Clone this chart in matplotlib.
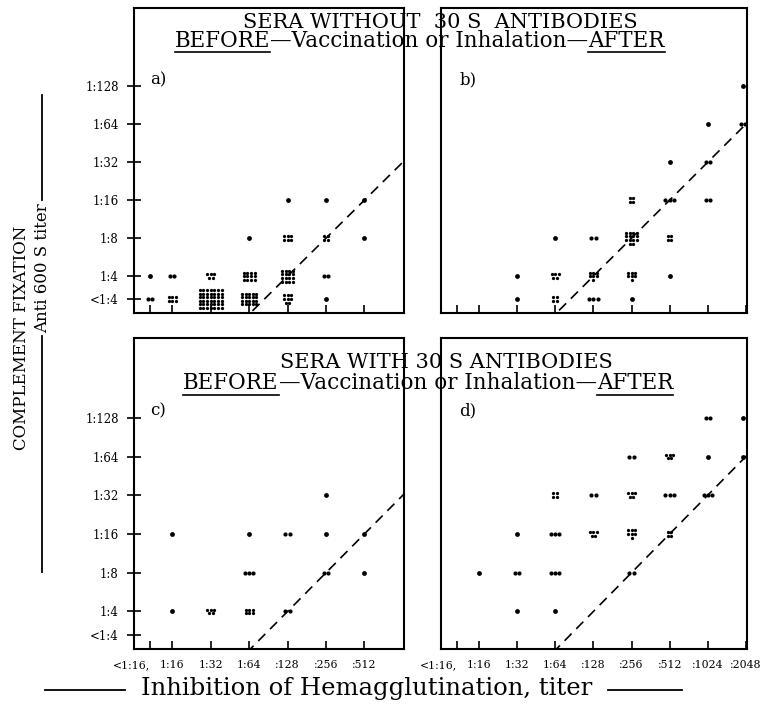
import matplotlib
matplotlib.use("Agg")
import matplotlib.pyplot as plt
from matplotlib.lines import Line2D
from matplotlib.transforms import ScaledTranslation
import numpy as np

plt.rcParams['font.family'] = ['DejaVu Serif']

# titer categories
hi_short = ['<1:16', '1:16', '1:32', '1:64', '1:128', '1:256', '1:512']
hi_long = hi_short + ['1:1024', '1:2048']
hi_tick_text = ['<1:16,', '1:16', '1:32', '1:64', ':128', ':256', ':512', ':1024', ':2048']
cf_levels = ['<1:4', '1:4', '1:8', '1:16', '1:32', '1:64', '1:128']

# a) without 30 S antibodies, before
a_hi = ['<1:16', '<1:16', '1:16', '1:16', '1:32', '1:32', '1:64', '1:64', '1:64',
        '1:128', '1:128', '1:128', '1:128', '1:256', '1:256', '1:256', '1:256', '1:512', '1:512']
a_cf = ['1:4', '<1:4', '1:4', '<1:4', '1:4', '<1:4', '1:8', '1:4', '<1:4',
        '1:16', '1:8', '1:4', '<1:4', '1:16', '1:8', '1:4', '<1:4', '1:16', '1:8']
a_n = [1, 2, 2, 6, 5, 42, 1, 12, 20, 1, 6, 16, 8, 1, 4, 2, 1, 1, 1]

# b) without 30 S antibodies, after
b_hi = ['1:32', '1:32', '1:64', '1:64', '1:64', '1:128', '1:128', '1:128',
        '1:256', '1:256', '1:256', '1:256', '1:512', '1:512', '1:512', '1:512',
        '1:1024', '1:1024', '1:1024', '1:2048', '1:2048']
b_cf = ['1:4', '<1:4', '1:8', '1:4', '<1:4', '1:8', '1:4', '<1:4',
        '1:16', '1:8', '1:4', '<1:4', '1:32', '1:16', '1:8', '1:4',
        '1:64', '1:32', '1:16', '1:128', '1:64']
b_n = [1, 1, 1, 5, 4, 2, 7, 3, 4, 14, 7, 1, 1, 3, 4, 1, 1, 2, 2, 1, 2]

# c) with 30 S antibodies, before
c_hi = ['1:16', '1:16', '1:32', '1:64', '1:64', '1:64', '1:128', '1:128',
        '1:256', '1:256', '1:256', '1:512', '1:512']
c_cf = ['1:16', '1:4', '1:4', '1:16', '1:8', '1:4', '1:16', '1:4',
        '1:32', '1:16', '1:8', '1:16', '1:8']
c_n = [1, 1, 5, 1, 3, 6, 2, 2, 1, 1, 2, 1, 1]

# d) with 30 S antibodies, after
d_hi = ['1:16', '1:32', '1:32', '1:32', '1:64', '1:64', '1:64', '1:64',
        '1:128', '1:128', '1:256', '1:256', '1:256', '1:256',
        '1:512', '1:512', '1:512', '1:1024', '1:1024', '1:1024', '1:2048', '1:2048']
d_cf = ['1:8', '1:16', '1:8', '1:4', '1:32', '1:16', '1:8', '1:4',
        '1:32', '1:16', '1:64', '1:32', '1:16', '1:8',
        '1:64', '1:32', '1:16', '1:128', '1:64', '1:32', '1:128', '1:64']
d_n = [1, 1, 2, 1, 4, 3, 3, 1, 2, 5, 2, 5, 7, 2, 5, 3, 4, 2, 1, 3, 1, 1]


def titer_pos(label, below=0.58):
    """log2 of the dilution, '<' values sit a little below the first step"""
    den = int(label.split(':')[1])
    if label.startswith('<'):
        return np.log2(den) - below
    return np.log2(den)


def cluster(n):
    """small grid of offsets so several sera at one cell show as a clump"""
    cols = n if n <= 3 else int(np.ceil(np.sqrt(n)))
    rows = int(np.ceil(n / cols))
    gap = 0.11 if n <= 3 else 0.095
    out = []
    for k in range(n):
        r, c = divmod(k, cols)
        in_row = min(cols, n - r * cols)
        out.append(((c - (in_row - 1) / 2) * gap, ((rows - 1) / 2 - r) * gap))
    return out


def draw_panel(ax, hi, cf, n, xcats, xmax, letter, show_y, show_x):
    for h, c, k in zip(hi, cf, n):
        x0, y0 = titer_pos(h), titer_pos(c, 0.6)
        if x0 >= xmax - 0.1:
            x0 -= 0.08  # keep dots at the last column inside the frame
        offs = cluster(k)
        xs = [x0 + dx for dx, dy in offs]
        ys = [y0 + dy for dx, dy in offs]
        size = 12 if k == 1 else (9 if k <= 3 else 5.5)
        ax.scatter(xs, ys, s=size, color='black', lw=0, zorder=3, clip_on=False)

    ax.set_xlim(3.0, xmax)
    ax.set_ylim(1.03, 9.06)
    xx = np.array([3.0, xmax])
    ax.plot(xx, xx - 5, color='black', lw=1.2, ls=(0, (6, 4)), zorder=2)

    ax.set_xticks([titer_pos(h) for h in xcats])
    if show_x:
        ax.set_xticklabels(hi_tick_text[:len(xcats)], fontsize=7.8)
        first = ax.get_xticklabels()[0]
        first.set_ha('right')
        first.set_transform(first.get_transform() +
                            ScaledTranslation(0.14, 0, ax.figure.dpi_scale_trans))
    else:
        ax.set_xticklabels([])
    ax.tick_params(axis='x', direction='in', length=6, width=1.2, pad=8)

    if show_y:
        ax.set_yticks([titer_pos(c, 0.6) for c in cf_levels])
        ax.set_yticklabels(cf_levels, fontsize=8.5)
        ax.tick_params(axis='y', direction='inout', length=10, width=1.2, pad=6)
    else:
        ax.set_yticks([])

    for s in ax.spines.values():
        s.set_linewidth(1.5)
    ax.text(0.06, 0.765, letter, transform=ax.transAxes, fontsize=12,
            ha='left', va='center')


def title_block(fig, y1, y2, head, x1, x2):
    fig.text(x1, y1, head, ha='center', va='center', fontsize=15)
    # second line with underlined BEFORE / AFTER
    pieces = ['BEFORE', '\u2014Vaccination or Inhalation\u2014', 'AFTER']
    fig.canvas.draw()
    r = fig.canvas.get_renderer()
    W = fig.bbox.width
    widths = []
    for p in pieces:
        t = fig.text(0, 0, p, fontsize=15.5)
        widths.append(t.get_window_extent(r).width / W)
        t.remove()
    x = x2 - sum(widths) / 2
    for p, w in zip(pieces, widths):
        fig.text(x, y2, p, ha='left', va='center', fontsize=15.5)
        if p in ('BEFORE', 'AFTER'):
            fig.add_artist(Line2D([x, x + w], [y2 - 0.016, y2 - 0.016],
                                  color='black', lw=1.2))
        x += w


fig = plt.figure(figsize=(7.83, 7.11), dpi=100)
ax_a = fig.add_axes([0.1711, 0.5598, 0.3448, 0.4290])
ax_b = fig.add_axes([0.5632, 0.5598, 0.3908, 0.4290])
ax_c = fig.add_axes([0.1711, 0.0872, 0.3448, 0.4374])
ax_d = fig.add_axes([0.5632, 0.0872, 0.3908, 0.4374])

draw_panel(ax_a, a_hi, a_cf, a_n, hi_short, 10.03, 'a)', True, False)
draw_panel(ax_b, b_hi, b_cf, b_n, hi_long, 11.03, 'b)', False, False)
draw_panel(ax_c, c_hi, c_cf, c_n, hi_short, 10.03, 'c)', True, True)
draw_panel(ax_d, d_hi, d_cf, d_n, hi_long, 11.03, 'd)', False, True)

title_block(fig, 0.969, 0.943, 'SERA WITHOUT  30 S  ANTIBODIES', 0.562, 0.536)
title_block(fig, 0.490, 0.461, 'SERA WITH 30 S ANTIBODIES', 0.570, 0.547)

# y label: two rotated lines, the second framed by long rules
fig.text(0.028, 1 - 338 / 711, 'COMPLEMENT FIXATION', rotation=90, ha='center',
         va='center', fontsize=12)
fig.text(0.054, 1 - 268 / 711, 'Anti 600 S titer', rotation=90, ha='center',
         va='center', fontsize=12)
fig.add_artist(Line2D([0.054, 0.054], [1 - 95 / 711, 1 - 200 / 711], color='black', lw=1.3))
fig.add_artist(Line2D([0.054, 0.054], [1 - 336 / 711, 1 - 572 / 711], color='black', lw=1.3))

# x label framed by rules
fig.text(367 / 783, 1 - 688 / 711, 'Inhibition of Hemagglutination, titer',
         ha='center', va='center', fontsize=17.5)
fig.add_artist(Line2D([45 / 783, 125 / 783], [1 - 690 / 711] * 2, color='black', lw=1.3))
fig.add_artist(Line2D([608 / 783, 682 / 783], [1 - 690 / 711] * 2, color='black', lw=1.3))

fig.savefig('out.png', dpi=100)
